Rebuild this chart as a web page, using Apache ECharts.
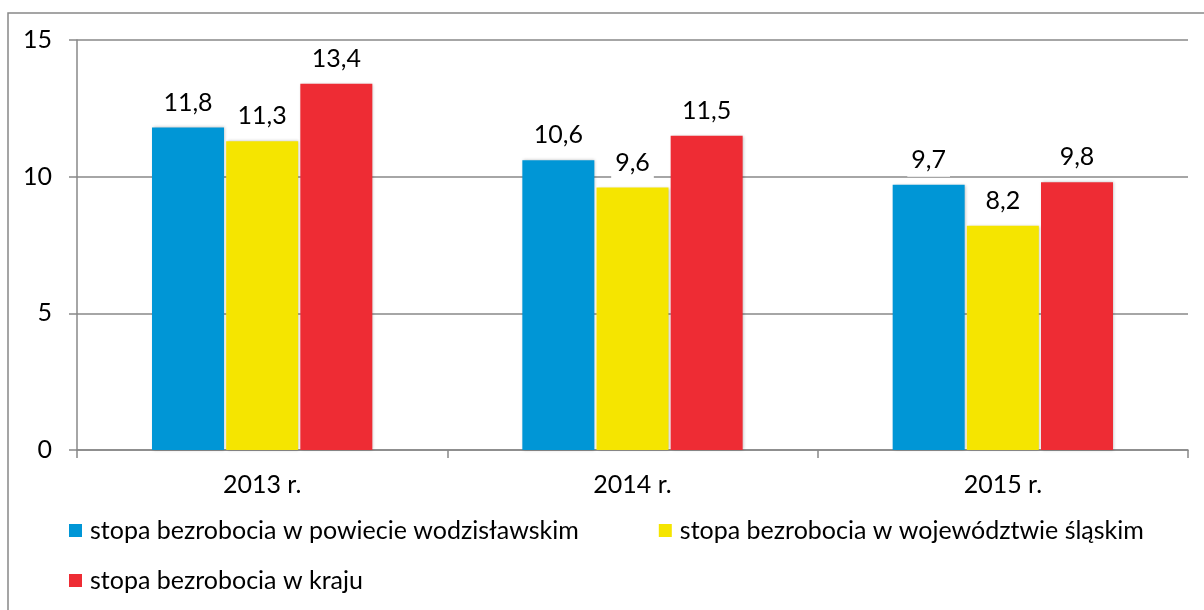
<!DOCTYPE html>
<html><head><meta charset="utf-8">
<script src="https://cdn.jsdelivr.net/npm/echarts@6/dist/echarts.min.js"></script>
<style>html,body{margin:0;padding:0;background:#fff}#c{width:1204px;height:610px}</style>
</head><body><div id="c"></div>
<script>
const categories = ['2013 r.', '2014 r.', '2015 r.'];
const seriesNames = ['stopa bezrobocia w powiecie wodzisławskim', 'stopa bezrobocia w województwie śląskim', 'stopa bezrobocia w kraju'];
const powiat = [11.8, 10.6, 9.7];
const wojewodztwo = [11.3, 9.6, 8.2];
const kraj = [13.4, 11.5, 9.8];
const yTicks = [0, 5, 10, 15];
const colors = ['#0096D6', '#F5E500', '#EE2C34'];
const FONT = 'Lato';
const chart = echarts.init(document.getElementById('c'));
function mk(name, data, color) {
  return {
    name, type: 'bar', data, barWidth: 72, barGap: '3%',
    itemStyle: { color, shadowColor: 'rgba(0,0,0,0.25)', shadowBlur: 3, shadowOffsetX: 1, shadowOffsetY: 0 },
    label: {
      show: true, position: 'top', distance: 8, color: '#000', fontFamily: FONT, fontSize: 25,
      backgroundColor: '#fff', lineHeight: 34, padding: [0, 4],
      formatter: p => String(p.value).replace('.', ',')
    }
  };
}
const legendText = { fontFamily: FONT, fontSize: 25, color: '#000', padding: [0, 0, 0, 3] };
chart.setOption({
  animation: false,
  textStyle: { fontFamily: FONT },
  graphic: [{ type: 'rect', shape: { x: 8, y: 13, width: 1220, height: 640 }, style: { fill: 'none', stroke: '#888', lineWidth: 1.5 }, silent: true }],
  grid: { left: 77, right: 16, top: 40, bottom: 160 },
  legend: [
    { data: [seriesNames[0], seriesNames[1]], left: 64, top: 513, itemWidth: 13, itemHeight: 13, itemGap: 80, icon: 'rect',
      textStyle: legendText },
    { data: [seriesNames[2]], left: 64, top: 563, itemWidth: 13, itemHeight: 13, icon: 'rect',
      textStyle: legendText }
  ],
  xAxis: {
    type: 'category', data: categories,
    axisLine: { lineStyle: { color: '#888', width: 1.5 } },
    axisTick: { show: true, length: 8, lineStyle: { color: '#888', width: 1.5 } },
    axisLabel: { fontFamily: FONT, fontSize: 25, color: '#000', margin: 22 }
  },
  yAxis: {
    type: 'value', min: 0, max: 15, interval: 5,
    axisLine: { show: true, lineStyle: { color: '#888', width: 1.5 } },
    axisTick: { show: true, length: 8, lineStyle: { color: '#888', width: 1.5 } },
    splitLine: { lineStyle: { color: '#888', width: 1.5 } },
    axisLabel: { fontFamily: FONT, fontSize: 25, color: '#000', margin: 25,
      formatter: v => yTicks.includes(v) ? String(v) : '' }
  },
  series: [mk(seriesNames[0], powiat, colors[0]), mk(seriesNames[1], wojewodztwo, colors[1]), mk(seriesNames[2], kraj, colors[2])]
});
</script></body></html>
